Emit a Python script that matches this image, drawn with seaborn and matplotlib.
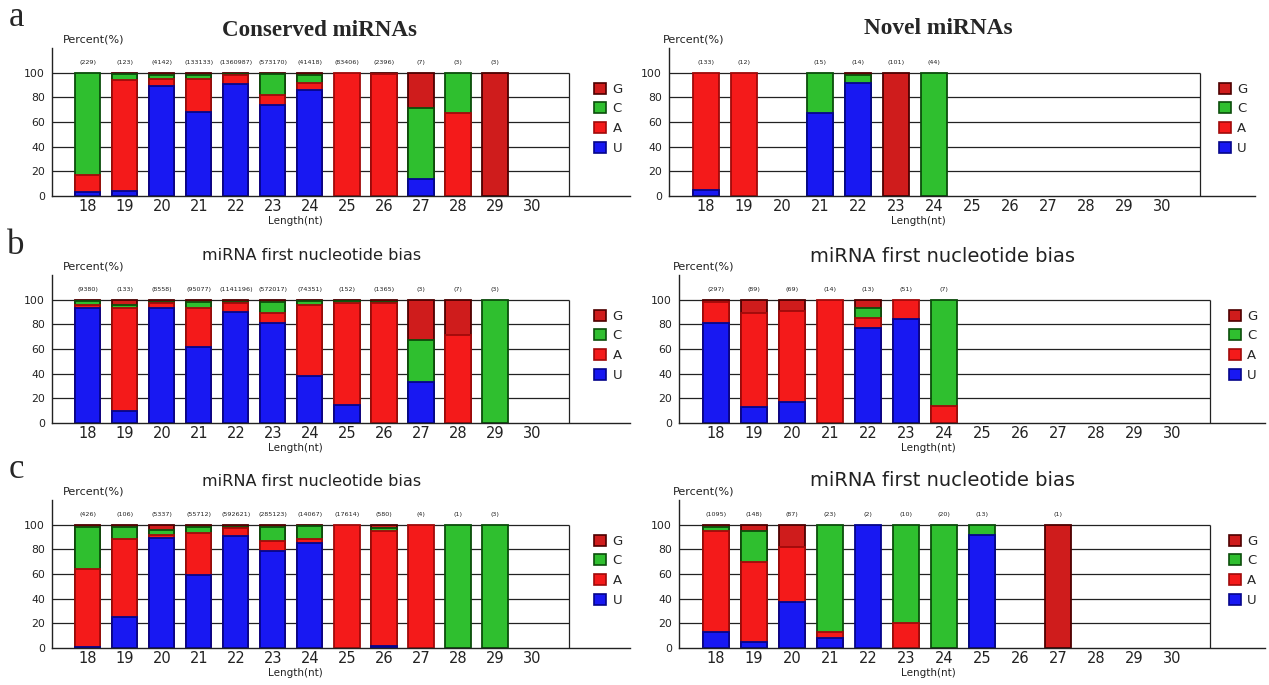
import numpy as np
import pandas as pd
import matplotlib
matplotlib.use("Agg")
import matplotlib.pyplot as plt
from matplotlib.patches import Patch
import seaborn as sns

# ---------------- data ----------------
categories = [str(v) for v in range(18, 31)]

# a - Conserved miRNAs
a1_len = [18, 19, 20, 21, 22, 23, 24, 25, 26, 27, 28, 29]
a1_U = [3, 4, 89, 68, 91, 74, 86, 0, 0, 14, 0, 0]
a1_A = [14, 90, 6, 27, 7, 8, 6, 100, 99, 0, 67, 0]
a1_C = [83, 5, 3, 3, 1, 17, 6, 0, 0, 57, 33, 0]
a1_G = [0, 1, 2, 2, 1, 1, 2, 0, 1, 29, 0, 100]
a1_n = [229, 123, 4142, 133133, 1360987, 573170, 41418, 83406, 2396, 7, 3, 3]

# a - Novel miRNAs
a2_len = [18, 19, 21, 22, 23, 24]
a2_U = [5, 0, 67, 92, 0, 0]
a2_A = [95, 100, 0, 0, 0, 0]
a2_C = [0, 0, 33, 6, 0, 100]
a2_G = [0, 0, 0, 2, 100, 0]
a2_n = [133, 12, 15, 14, 101, 44]

# b - left
b1_len = [18, 19, 20, 21, 22, 23, 24, 25, 26, 27, 28, 29]
b1_U = [93, 10, 93, 62, 90, 81, 38, 15, 0, 33, 0, 0]
b1_A = [3, 83, 4, 31, 7, 8, 58, 82, 97, 0, 71, 0]
b1_C = [3, 3, 1, 5, 1, 9, 3, 2, 1, 34, 0, 100]
b1_G = [1, 4, 2, 2, 2, 2, 1, 1, 2, 33, 29, 0]
b1_n = [9380, 133, 8558, 95077, 1141196, 572017, 74351, 152, 1365, 3, 7, 3]

# b - right
b2_len = [18, 19, 20, 21, 22, 23, 24]
b2_U = [81, 13, 17, 0, 77, 84, 0]
b2_A = [17, 76, 74, 100, 8, 16, 14]
b2_C = [0, 0, 0, 0, 8, 0, 86]
b2_G = [2, 11, 9, 0, 7, 0, 0]
b2_n = [297, 89, 69, 14, 13, 51, 7]

# c - left
c1_len = [18, 19, 20, 21, 22, 23, 24, 25, 26, 27, 28, 29]
c1_U = [1, 25, 89, 59, 91, 79, 85, 0, 2, 0, 0, 0]
c1_A = [63, 63, 3, 34, 6, 8, 3, 100, 93, 100, 0, 0]
c1_C = [34, 10, 4, 5, 1, 11, 11, 0, 2, 0, 100, 100]
c1_G = [2, 2, 4, 2, 2, 2, 1, 0, 3, 0, 0, 0]
c1_n = [426, 106, 5337, 55712, 592621, 285123, 14067, 17614, 580, 4, 1, 3]

# c - right
c2_len = [18, 19, 20, 21, 22, 23, 24, 25, 27]
c2_U = [13, 5, 37, 8, 100, 0, 0, 92, 0]
c2_A = [82, 65, 45, 5, 0, 20, 0, 0, 0]
c2_C = [3, 25, 0, 87, 0, 80, 100, 8, 0]
c2_G = [2, 5, 18, 0, 0, 0, 0, 0, 100]
c2_n = [1095, 148, 87, 23, 2, 10, 20, 13, 1]

titles = ["Conserved miRNAs", "Novel miRNAs",
          "miRNA first nucleotide bias", "miRNA first nucleotide bias",
          "miRNA first nucleotide bias", "miRNA first nucleotide bias"]
panel_letters = ["a", "b", "c"]
legend_labels = ["G", "C", "A", "U"]

# ---------------- style ----------------
sns.set_theme(style="white")
plt.rcParams["font.family"] = ["DejaVu Sans"]

face = {"U": "#1818f2", "A": "#f41a1a", "C": "#2fbf2f", "G": "#cf1c1c"}
edge = {"U": "#05058a", "A": "#a00a0a", "C": "#0b4d0b", "G": "#4d0000"}

W, H = 1269, 685
fig = plt.figure(figsize=(W / 100, H / 100), dpi=100)

col_geo = [(52, 630, -0.97, 14.65), (679, 1265, -0.97, 14.45)]
row_geo = [(48, 196), (275, 423), (500, 648)]

panels = [
    (a1_len, a1_U, a1_A, a1_C, a1_G, a1_n),
    (a2_len, a2_U, a2_A, a2_C, a2_G, a2_n),
    (b1_len, b1_U, b1_A, b1_C, b1_G, b1_n),
    (b2_len, b2_U, b2_A, b2_C, b2_G, b2_n),
    (c1_len, c1_U, c1_A, c1_C, c1_G, c1_n),
    (c2_len, c2_U, c2_A, c2_C, c2_G, c2_n),
]

title_pos = [(320, 30), (938, 28), (312, 256), (942, 257), (312, 481), (942, 481)]

for k, (lens, U, A, C, G, N) in enumerate(panels):
    r, c = divmod(k, 2)
    x0, x1, xl, xr = col_geo[c]
    if k == 1:
        x0, x1 = x0 - 10, x1 - 10
    top, bot = row_geo[r]
    ax = fig.add_axes([x0 / W, 1 - bot / H, (x1 - x0) / W, (bot - top) / H])

    df = pd.DataFrame({"len": [str(v) for v in lens], "U": U, "A": A, "C": C, "G": G})
    df["cU"] = df["U"]
    df["cA"] = df["U"] + df["A"]
    df["cC"] = df["cA"] + df["C"]
    df["cG"] = df["cC"] + df["G"]

    for key in ["G", "C", "A", "U"]:
        sub = df[df[key] > 0]
        if len(sub) == 0:
            continue
        sns.barplot(data=sub, x="len", y="c" + key, order=categories,
                    color=face[key], saturation=1, width=0.68,
                    edgecolor=edge[key], linewidth=1.3, errorbar=None, ax=ax)

    # count labels
    for lv, n in zip(lens, N):
        ax.text(categories.index(str(lv)), 108, f"({n})", fontsize=4.6,
                ha="center", va="center", color="#222222")

    ax.set_xlim(xl, xr)
    ax.set_ylim(0, 120)
    ax.set_xlabel("")
    ax.set_ylabel("")
    ax.hlines([20, 40, 60, 80, 100], xl, 13, color="#222222", lw=0.9, zorder=0.5)
    ax.vlines(13, 0, 100, color="#222222", lw=0.9)

    for s in ["top", "right"]:
        ax.spines[s].set_visible(False)
    for s in ["left", "bottom"]:
        ax.spines[s].set_color("#222222")
        ax.spines[s].set_linewidth(1.0)

    ax.set_yticks([0, 20, 40, 60, 80, 100])
    ax.set_yticklabels(["0", "20", "40", "60", "80", "100"], fontsize=7.8)
    ax.set_xticks(range(len(categories)))
    ax.set_xticklabels(categories, fontsize=10.5)
    ax.tick_params(axis="y", direction="out", length=3, width=0.8, pad=2, colors="#222222")
    ax.tick_params(axis="x", direction="in", length=3, width=0.8, pad=2, colors="#222222")
    for t in ax.get_xticklabels() + ax.get_yticklabels():
        t.set_color("#222222")

    ax.text(5.6, -0.17, "Length(nt)", transform=ax.get_xaxis_transform(),
            fontsize=7.5, ha="center", va="center", color="#222222")
    ax.text(0.019 if c == 0 else -0.01, 1.055, "Percent(%)", transform=ax.transAxes,
            fontsize=8, ha="left", va="center", color="#222222")

    handles = [Patch(facecolor=face[kk], edgecolor=edge[kk], linewidth=1.2) for kk in legend_labels]
    ax.legend(handles=handles, labels=legend_labels, loc="upper left",
              bbox_to_anchor=(0.938, 0.765), frameon=False, fontsize=9.5,
              handlelength=0.9, handleheight=0.9, handletextpad=0.5,
              labelspacing=0.5, borderpad=0, borderaxespad=0)

    tx, ty = title_pos[k]
    if r == 0:
        fig.text(tx / W, 1 - ty / H, titles[k], fontsize=16.6 if c == 0 else 16.8,
                 fontweight="bold", family=["Liberation Serif"], ha="center", va="center")
    else:
        fig.text(tx / W, 1 - ty / H, titles[k], fontsize=11.6 if c == 0 else 14,
                 ha="center", va="center", color="#222222")

for lt, py in zip(panel_letters, [18, 245, 470]):
    fig.text(16 / W, 1 - py / H, lt, fontsize=25, family=["Liberation Serif"],
             ha="center", va="center")

fig.savefig("out.png", dpi=100)
